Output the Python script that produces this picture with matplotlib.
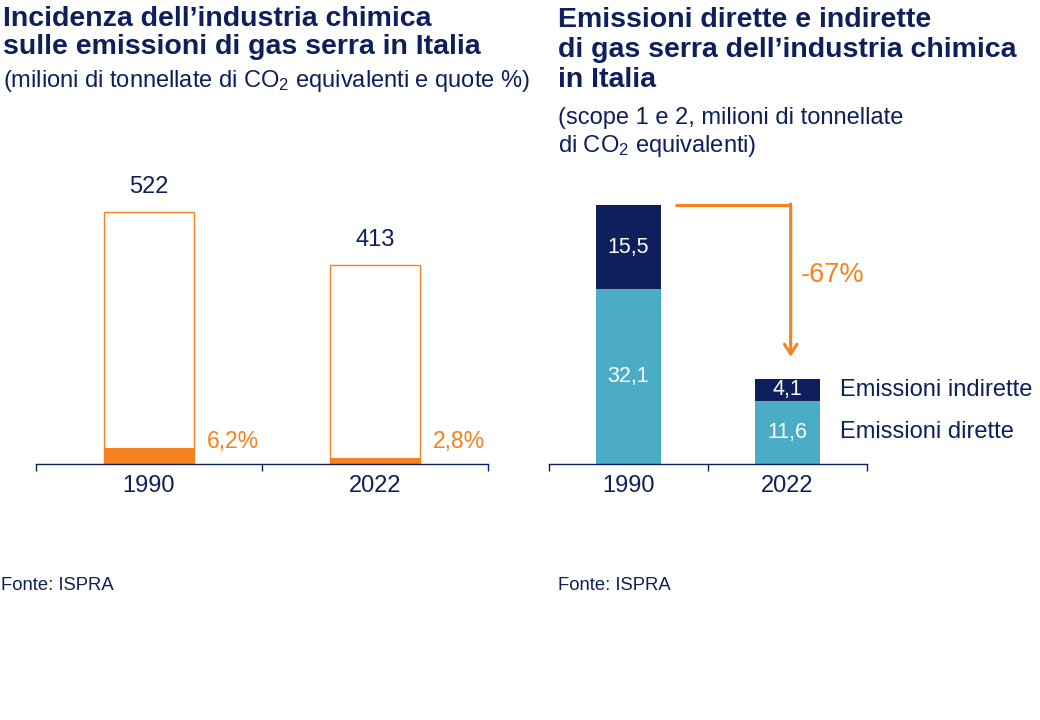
import matplotlib
matplotlib.use("Agg")
import matplotlib.pyplot as plt

plt.rcParams["font.family"] = ["Liberation Sans", "DejaVu Sans"]
plt.rcParams["mathtext.fontset"] = "custom"
plt.rcParams["mathtext.rm"] = "Liberation Sans"
plt.rcParams["mathtext.default"] = "rm"

NAVY = "#0d1f5c"
TEAL = "#4bacc6"
ORANGE = "#f5821f"

# dati
years = ["1990", "2022"]
total_ghg = [522, 413]           # milioni t CO2 eq, Italia
share_chem = [6.2, 2.8]          # quota industria chimica (%)
share_labels = ["6,2%", "2,8%"]
direct = [32.1, 11.6]            # scope 1
indirect = [15.5, 4.1]           # scope 2
direct_labels = ["32,1", "11,6"]
indirect_labels = ["15,5", "4,1"]
change_label = "-67%"
series_names = ["Emissioni indirette", "Emissioni dirette"]

W, H = 1040, 720
fig = plt.figure(figsize=(W / 100, H / 100), dpi=100)


def fx(x):
    return x / W


def fy(y):
    return 1 - y / H


def style_axis(ax, n):
    for side in ["top", "right", "left"]:
        ax.spines[side].set_visible(False)
    ax.spines["bottom"].set_color(NAVY)
    ax.spines["bottom"].set_linewidth(1.0)
    ax.set_yticks([])
    ax.set_xlim(-0.5, n - 0.5)
    ax.set_xticks(range(n))
    ax.set_xticklabels(years, fontsize=17, color=NAVY)
    ax.tick_params(axis="x", which="major", length=0, pad=8)
    ax.set_xticks([i - 0.5 for i in range(n + 1)], minor=True)
    ax.tick_params(axis="x", which="minor", length=5, width=1.0, color=NAVY, direction="out")


# --- grafico sinistro ---
ax1 = fig.add_axes([fx(36), fy(464), fx(452), 300 / H])
x = range(len(years))
ax1.bar(x, total_ghg, width=0.4, facecolor="white", edgecolor=ORANGE, linewidth=1.0)
chem = [t * s / 100 for t, s in zip(total_ghg, share_chem)]
ax1.bar(x, chem, width=0.4, color=ORANGE, linewidth=0)
ax1.set_ylim(0, 522 * 300 / 252)
style_axis(ax1, len(years))
for i, (t, lab) in enumerate(zip(total_ghg, share_labels)):
    ax1.annotate(str(t), (i, t), xytext=(0, 18), textcoords="offset points",
                 ha="center", va="center", fontsize=17, color=NAVY)
    ax1.annotate(lab, (i + 0.2, 0), xytext=(9, 16.5), textcoords="offset points",
                 ha="left", va="center", fontsize=16.5, color=ORANGE)

# --- grafico destro ---
ax2 = fig.add_axes([fx(549), fy(464), fx(318), 300 / H])
totals = [d + ind for d, ind in zip(direct, indirect)]
ax2.bar(x, direct, width=0.41, color=TEAL, linewidth=0)
ax2.bar(x, indirect, bottom=direct, width=0.41, color=NAVY, linewidth=0)
ax2.set_ylim(0, 47.6 * 300 / 259)
style_axis(ax2, len(years))
for i in x:
    ax2.text(i, direct[i] / 2, direct_labels[i], ha="center", va="center",
             fontsize=15.5, color="white")
    ax2.text(i, direct[i] + indirect[i] / 2, indirect_labels[i], ha="center",
             va="center", fontsize=15.5, color="white")

last = len(years) - 1
ax2.annotate(series_names[0], (last + 0.205, direct[last] + indirect[last] / 2),
             xytext=(14, 0), textcoords="offset points", ha="left", va="center",
             fontsize=17, color=NAVY, annotation_clip=False)
ax2.annotate(series_names[1], (last + 0.205, direct[last] / 2),
             xytext=(14, 0), textcoords="offset points", ha="left", va="center",
             fontsize=17, color=NAVY, annotation_clip=False)

# freccia di variazione
ax2.plot([0.29, 1.02], [totals[0], totals[0]], color=ORANGE, lw=2.2,
         solid_capstyle="butt", clip_on=False)
ax2.annotate("", xy=(1.02, totals[1] + 4.0), xytext=(1.02, totals[0] + 0.2),
             arrowprops=dict(arrowstyle="->,head_length=0.7,head_width=0.45",
                             color=ORANGE, lw=2.2, shrinkA=0, shrinkB=0),
             annotation_clip=False)
ax2.text(1.085, 34.7, change_label, ha="left", va="center", fontsize=19.5, color=ORANGE)

# --- testi ---
fig.text(fx(3), fy(26), "Incidenza dell\u2019industria chimica", fontsize=20.5,
         fontweight="bold", color=NAVY, va="baseline")
fig.text(fx(3), fy(54), "sulle emissioni di gas serra in Italia", fontsize=20.5,
         fontweight="bold", color=NAVY, va="baseline")
fig.text(fx(3), fy(87), r"(milioni di tonnellate di CO$_2$ equivalenti e quote %)",
         fontsize=17, color=NAVY, va="baseline")

fig.text(fx(558), fy(27), "Emissioni dirette e indirette", fontsize=20.5,
         fontweight="bold", color=NAVY, va="baseline")
fig.text(fx(558), fy(57), "di gas serra dell\u2019industria chimica", fontsize=20.5,
         fontweight="bold", color=NAVY, va="baseline")
fig.text(fx(558), fy(87), "in Italia", fontsize=20.5,
         fontweight="bold", color=NAVY, va="baseline")
fig.text(fx(558), fy(124), "(scope 1 e 2, milioni di tonnellate", fontsize=17,
         color=NAVY, va="baseline")
fig.text(fx(558), fy(152), r"di CO$_2$ equivalenti)", fontsize=17,
         color=NAVY, va="baseline")

fig.text(fx(1), fy(590), "Fonte: ISPRA", fontsize=13.3, color=NAVY, va="baseline")
fig.text(fx(558), fy(590), "Fonte: ISPRA", fontsize=13.3, color=NAVY, va="baseline")

fig.savefig("out.png", dpi=100, facecolor="white")
